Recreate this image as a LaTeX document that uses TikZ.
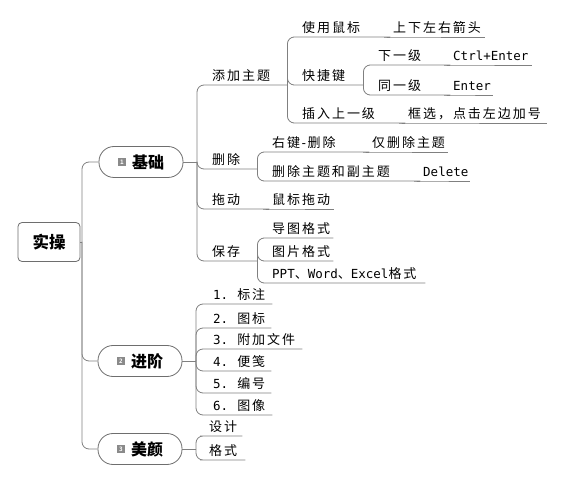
\documentclass[tikz,border=0pt]{standalone}
\usepackage{fontspec}
\setmainfont{Noto Sans CJK SC}
\newfontfamily\cjk[LetterSpace=15]{Noto Sans CJK SC}
\newfontfamily\mono{DejaVu Sans Mono}
\definecolor{linegray}{HTML}{808080}
\definecolor{pillgray}{HTML}{6E6E6E}
\definecolor{badgegray}{HTML}{8A8A8A}
\newcommand\mybadge[1]{\raisebox{2pt}{\fboxsep=0pt\colorbox{badgegray}{\makebox[8pt][c]{\rule{0pt}{8pt}\raisebox{1.2pt}{\fontsize{6}{6}\selectfont\color{white}\mono #1}}}}}
\newcommand\mn[1]{{\mono\fontsize{12.5}{14}\selectfont #1}}
\newcommand\num[1]{\mn{#1.}\hspace{9pt}}
\tikzset{
  link/.style={draw=linegray, line width=0.8pt, rounded corners=7pt},
  topic/.style={anchor=south west, inner xsep=2pt, inner ysep=0pt, text height=10pt, text depth=4pt, align=left, font=\cjk\fontsize{13}{15}\selectfont},
  pill/.style={draw=pillgray, line width=0.8pt, rounded corners=15pt, minimum width=84pt, minimum height=31pt, inner sep=0pt, font=\bfseries\fontsize{16}{18}\selectfont},
  rootbox/.style={draw=pillgray, line width=0.8pt, rounded corners=4pt, minimum width=62pt, minimum height=39pt, inner sep=0pt, font=\bfseries\fontsize{16.5}{18}\selectfont}
}
\begin{document}
\begin{tikzpicture}[x=1pt,y=-1pt]
\fill[white] (0,0) rectangle (566,484);
\useasboundingbox (0,0) rectangle (566,484);
% root and main topics
\node[rootbox] (rt) at (49,242) {实操};
\node[pill] (b1) at (141,162) {\mybadge{1}\hspace{6pt}基础};
\node[pill] (b2) at (140,361) {\mybadge{2}\hspace{6pt}进阶};
\node[pill] (b3) at (140,449) {\mybadge{3}\hspace{6pt}美颜};
\coordinate (J0) at (82,242);
\draw[link] (rt.east) -- (J0);
\draw[link] (J0) |- (b1.west);
\draw[link] (J0) |- (b2.west);
\draw[link] (J0) |- (b3.west);
% group 1
\coordinate (J1) at (197,162);
\draw[link] (b1.east) -- (J1);
\node[topic, text width=73pt] (a1) at (210,85) {添加主题};
\node[topic, text width=43pt] (a2) at (210,169) {删除};
\node[topic, text width=55pt] (a3) at (210,209) {拖动};
\node[topic, text width=43pt] (a4) at (210,261) {保存};
\foreach \c in {a1,a2,a3,a4} \draw[link] (J1) |- (\c.south west) -- (\c.south east);
% 添加主题 children
\node[topic, text width=86pt] (a11) at (300,37) {使用鼠标};
\node[topic, text width=90pt] (a111) at (391,37) {上下左右箭头};
\node[topic, text width=59pt] (a12) at (300,85) {快捷键};
\node[topic, text width=101pt] (a13) at (300,123) {插入上一级};
\node[topic, text width=137pt] (a131) at (406,123) {框选，点击左边加号};
\foreach \c in {a11,a12,a13} \draw[link] (a1.south east) |- (\c.south west) -- (\c.south east);
\draw[link] (a11.south east) -- (a111.south west) -- (a111.south east);
\draw[link] (a13.south east) -- (a131.south west) -- (a131.south east);
% 快捷键 children
\node[topic, text width=70pt] (a121) at (376,65) {下一级};
\node[topic, text width=77pt] (a1211) at (451,65) {\mn{Ctrl+Enter}};
\node[topic, text width=70pt] (a122) at (376,95) {同一级};
\node[topic, text width=38pt] (a1221) at (451,95) {\mn{Enter}};
\foreach \c in {a121,a122} \draw[link] (a12.south east) |- (\c.south west) -- (\c.south east);
\draw[link] (a121.south east) -- (a1211.south west) -- (a1211.south east);
\draw[link] (a122.south east) -- (a1221.south west) -- (a1221.south east);
% 删除 children
\node[topic, text width=95pt] (a21) at (270,152) {右键\mn{-}删除};
\node[topic, text width=74pt] (a211) at (370,152) {仅删除主题};
\node[topic, text width=146pt] (a22) at (270,181) {删除主题和副主题};
\node[topic, text width=45pt] (a221) at (421,181) {\mn{Delete}};
\foreach \c in {a21,a22} \draw[link] (a2.south east) |- (\c.south west) -- (\c.south east);
\draw[link] (a21.south east) -- (a211.south west) -- (a211.south east);
\draw[link] (a22.south east) -- (a221.south west) -- (a221.south east);
% 拖动 child
\node[topic, text width=60pt] (a31) at (270,209) {鼠标拖动};
\draw[link] (a3.south east) -- (a31.south west) -- (a31.south east);
% 保存 children
\node[topic, text width=59pt] (a41) at (270,238) {导图格式};
\node[topic, text width=59pt] (a42) at (270,261) {图片格式};
\node[topic, text width=151pt] (a43) at (270,283) {\mn{PPT}、\mn{Word}、\mn{Excel}格式};
\foreach \c in {a41,a42,a43} \draw[link] (a4.south east) |- (\c.south west) -- (\c.south east);
% group 2
\coordinate (J5) at (196,361);
\draw[link] (b2.east) -- (J5);
\node[topic, text width=57pt] (c1) at (211,304) {\mbox{\num{1}标注}};
\node[topic, text width=56pt] (c2) at (211,328) {\mbox{\num{2}图标}};
\node[topic, text width=87pt] (c3) at (211,349) {\mbox{\num{3}附加文件}};
\node[topic, text width=56pt] (c4) at (211,371) {\mbox{\num{4}便笺}};
\node[topic, text width=56pt] (c5) at (211,393) {\mbox{\num{5}编号}};
\node[topic, text width=57pt] (c6) at (211,415) {\mbox{\num{6}图像}};
\foreach \c in {c1,c2,c3,c4,c5,c6} \draw[link] (J5) |- (\c.south west) -- (\c.south east);
% group 3
\coordinate (J6) at (196,449);
\draw[link] (b3.east) -- (J6);
\node[topic, text width=31pt] (d1) at (207,436) {设计};
\node[topic, text width=34pt] (d2) at (207,460) {格式};
\foreach \c in {d1,d2} \draw[link] (J6) |- (\c.south west) -- (\c.south east);
\end{tikzpicture}
\end{document}
